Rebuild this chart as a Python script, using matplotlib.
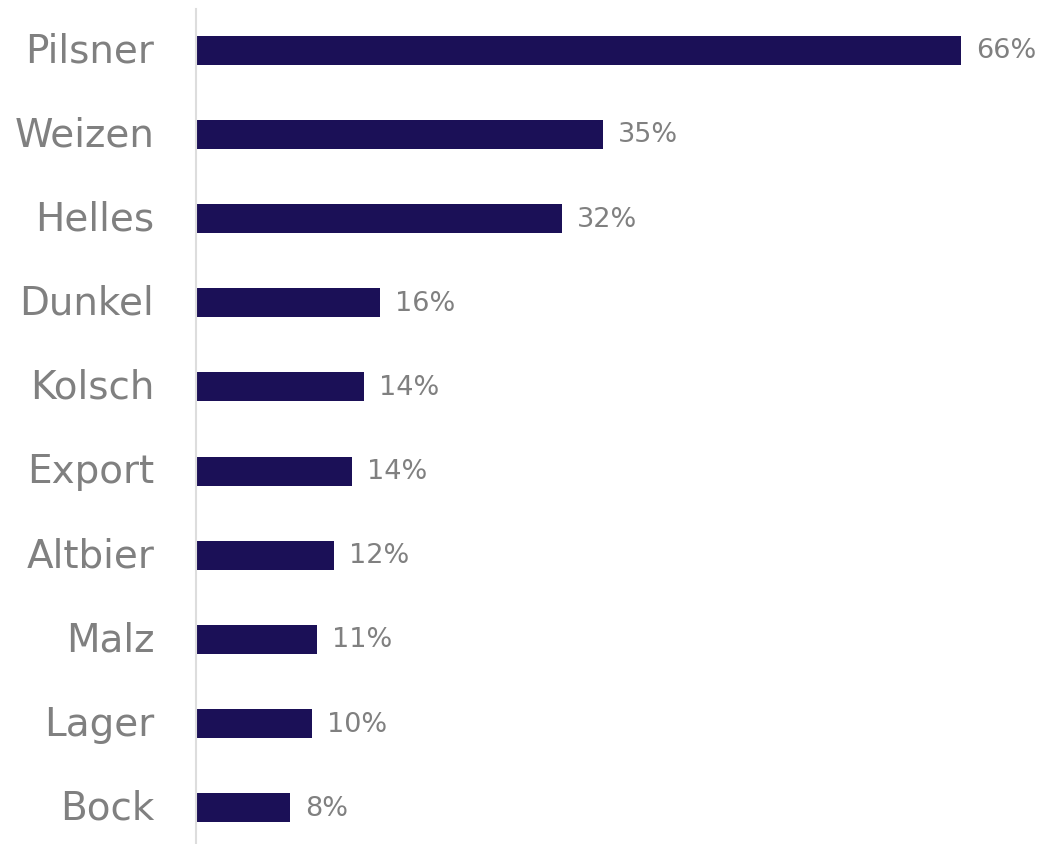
import matplotlib.pyplot as plt

styles = ['Pilsner', 'Weizen', 'Helles', 'Dunkel', 'Kolsch',
          'Export', 'Altbier', 'Malz', 'Lager', 'Bock']
shares = [66, 35.1, 31.6, 15.9, 14.5, 13.5, 11.9, 10.4, 10.0, 8.1]
share_labels = ['66%', '35%', '32%', '16%', '14%',
                '14%', '12%', '11%', '10%', '8%']

bar_color = '#1b1057'
text_color = '#808080'

plt.rcParams['font.family'] = ['DejaVu Sans']

fig = plt.figure(figsize=(10.43, 8.45), dpi=100)
ax = fig.add_axes([196 / 1043, 0, 847 / 1043, 835 / 845])

pos = list(range(len(styles)))
ax.barh(pos, shares, height=0.345, color=bar_color)

for y, v, lab in zip(pos, shares, share_labels):
    ax.text(v + 1.3, y, lab, va='center', ha='left',
            fontsize=19.5, color=text_color)

ax.set_xlim(0, 73.1)
ax.set_ylim(9.43, -0.49)
ax.set_yticks(pos)
ax.set_yticklabels(styles, fontsize=28, color=text_color, va='center')
ax.tick_params(axis='y', length=0, pad=30)
ax.set_xticks([])

for side in ['top', 'right', 'bottom']:
    ax.spines[side].set_visible(False)
ax.spines['left'].set_color('#dddddd')
ax.spines['left'].set_linewidth(1.5)

fig.savefig('out.png', dpi=100)
